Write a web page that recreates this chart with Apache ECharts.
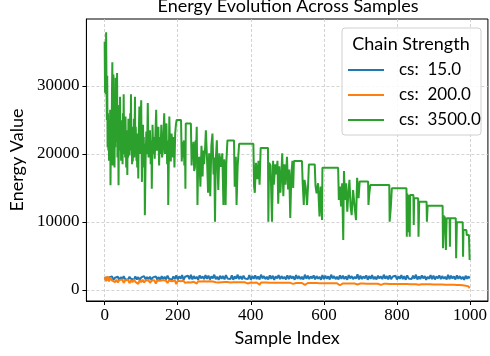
<!DOCTYPE html>
<html><head><meta charset="utf-8">
<script src="https://cdn.jsdelivr.net/npm/echarts@6/dist/echarts.min.js"></script>
<style>html,body{margin:0;padding:0;background:#fff}#c{width:490px;height:356px}</style>
</head><body><div id="c"></div>
<script>
const seriesNames = ['cs:  15.0', 'cs:  200.0', 'cs:  3500.0'];
const xTicks = [0, 200, 400, 600, 800, 1000];
const yTicks = [0, 10000, 20000, 30000];
const sampleStep = 4;
const blueVals = [
1550,1900,1450,1850,1600,2000,1500,1800,1650,1950,
1450,1900,1550,2050,1600,1850,1500,1950,1650,1800,
1500,2000,1550,1900,1450,1850,1650,2050,1550,1900,
1600,1950,1500,1850,1650,2000,1550,1900,1450,2050,
1600,1950,1550,2100,1650,1900,1500,2000,1600,2150,
1550,2000,1650,2200,1500,1950,1700,2100,1600,2250,
1550,2050,1650,1950,1500,2150,1700,2000,1600,2200,
1650,2100,1550,2000,1700,2250,1600,1950,1500,2100,
1650,2050,1550,2200,1700,1950,1600,2150,1500,2000,
1650,2250,1600,2050,1550,2100,1700,1950,1600,2200,
1500,2050,1650,2150,1600,2000,1550,2250,1700,2050,
1600,1950,1550,2150,1650,2100,1500,2000,1700,2200,
1600,2050,1650,1950,1550,2150,1600,2100,1700,2000,
1500,2200,1650,2050,1600,1950,1550,2250,1650,2100,
1600,2000,1700,2150,1550,2050,1650,1950,1500,2200,
1600,2100,1650,2000,1550,2250,1700,2050,1600,1950,
1550,2150,1650,2100,1600,2000,1500,2200,1700,2050,
1600,1950,1650,2300,1550,2100,1600,2000,1700,2150,
1500,2050,1650,2200,1600,1950,1550,2100,1700,2000,
1600,2250,1650,2050,1550,2150,1600,1950,1700,2100,
1550,2000,1650,2200,1600,2050,1500,2150,1700,1950,
1600,2100,1650,2250,1550,2000,1600,2150,1700,2050,
1500,1950,1650,2200,1600,2100,1550,2000,1700,2150,
1600,2050,1650,1950,1550,2250,1600,2100,1700,2000,
1550,2150,1650,2050,1600,1950,1500,2100,1650,2000,
1700];
const orangeVals = [
1900,1300,2000,1250,1850,1400,
1550,1150,1500,1100,1450,1250,1550,1050,1400,1200,
1500,1000,1450,1150,1550,1200,1400,900,1450,1150,
1500,1100,1400,1250,1450,1050,1350,1200,1450,950,
1400,1150,1350,1100,1450,1200,1350,1050,1400,1150,
1300,1100,1400,850,1350,1150,1300,1200,1350,1050,
1300,1150,1350,1100,1250,1200,1300,950,1300,1150,
1250,1200,1300,1100,1250,1150,1300,1050,1250,
1200,1150,1200,1100,1180,1150,900,1170,1120,1160,
1150,1100,1150,1130,850,1140,1100,1140,1120,1130,
1100,1130,1110,950,1120,1100,1110,1080,1110,1100,
1100,800,1100,1090,1095,1080,1090,1085,1080,950,
1080,1075,1070,1075,1070,850,1065,1060,1060,1055,
1055,
1050,1048,1045,900,1043,1040,1038,1036,1034,1032,
1030,750,1028,1025,1022,1020,1018,1016,1014,1012,
1010,1008,850,1005,1002,1000,998,995,993,990,
988,985,983,980,978,700,975,972,970,968,
965,962,960,958,955,952,950,820,948,945,
942,940,938,935,932,930,928,925,922,920,
917,915,912,750,910,907,905,902,900,897,
895,892,890,887,885,882,880,877,875,872,
870,867,865,862,860,857,855,852,850,760,
847,845,842,840,837,835,832,830,827,825,
822,820,815,810,805,800,795,790,785,780,
775,770,765,760,750,740,730,720,705,690,
670,640,600,520,
250];
const greenPts = [
[0,36500],[1,29000],[2,36300],[3,28800],[4,37900],[5,30500],[6,25000],[7,31500],[8,21000],[9,26000],
[10,20500],[11,24800],[12,19000],[13,24700],[14,21000],[15,26500],[16,15400],[17,22000],[18,24500],[19,20000],
[20,29000],[21,33500],[22,18300],[23,27000],[24,31700],[25,22500],[26,24400],[27,18000],[28,26000],[29,21000],
[30,31200],[31,24000],[32,21800],[33,28500],[34,31900],[35,19500],[36,24000],[37,22000],[38,15400],[39,23000],
[40,27200],[41,20500],[42,28400],[43,22000],[44,25000],[45,19000],[46,23500],[47,21000],[48,24800],[49,18500],
[50,26000],[51,20000],[52,28800],[53,23000],[54,20400],[55,25000],[56,19500],[57,25500],[58,21500],[59,18000],
[60,23500],[61,20000],[62,16900],[63,22500],[64,19500],[65,25200],[66,21000],[67,23500],[68,19800],[69,22000],
[70,26000],[71,21500],[72,28800],[73,20500],[74,23000],[75,18500],[76,22500],[77,18900],[78,24000],[79,21000],
[80,25200],[81,19500],[82,23500],[83,28400],[84,20000],[85,24000],[86,21800],[87,19000],[88,23000],[89,18000],
[90,21500],[91,20000],[92,16400],[93,22000],[94,24500],[95,27000],[96,20000],[97,23000],[98,21000],[99,25000],
[100,27900],[101,21000],[102,15900],[103,22000],[104,19500],[105,24300],[106,20500],[107,22500],[108,18000],[109,21500],
[110,11000],[112,19000],[114,23300],[116,20000],[118,27500],[120,19500],[122,20400],[124,23500],[126,18500],[128,22000],
[129,14900],[131,24300],[133,20000],[135,22500],[137,19300],[139,23000],[141,26500],[143,20500],[145,21800],[147,24000],
[149,18300],[151,22500],[153,20000],[155,24300],[157,19500],[159,20400],[161,23000],[163,26000],[165,20000],[167,21800],
[169,24500],[171,18500],[173,22000],[174,12500],[176,21000],[177,25500],[179,20500],[181,18900],[183,23000],[185,21800],
[187,19500],[189,22500],[191,18000],[193,23000],[195,24300],[197,25000],[209,25000],[211,18900],[213,21800],[215,19500],
[217,22000],[218,18300],[220,21000],[221,14900],[222,24500],[236,24500],[238,18300],[240,21500],[242,19500],[243,21800],
[245,17500],[247,18000],[249,22000],[250,20000],[252,24000],[254,12500],[256,19000],[259,19600],[262,15200],[265,21200],
[268,16700],[270,20500],[272,18500],[275,21000],[277,23500],[280,19500],[283,14300],[286,20100],[289,13800],[292,21200],
[295,23000],[298,17000],[300,19500],[302,10050],[304,19000],[307,22000],[309,18000],[311,14700],[314,20100],[318,18100],
[322,20100],[325,12500],[327,19200],[329,17800],[331,12500],[333,18700],[336,22000],[354,22000],[356,15200],[359,19600],
[361,12500],[364,18200],[368,21500],[407,21500],[409,15200],[411,14300],[414,18700],[418,16300],[421,19000],[424,15500],
[427,20900],[447,20900],[448,10050],[450,18700],[454,18300],[458,10050],[461,19000],[463,15500],[467,18500],[470,17000],
[473,19000],[475,12700],[478,18200],[481,14300],[484,17500],[486,20100],[489,13800],[492,18500],[495,15500],[499,19600],
[502,14800],[505,17700],[508,10600],[511,17000],[514,19000],[516,15000],[518,18960],[540,18960],[542,15700],[545,12500],
[547,16200],[550,15200],[554,12500],[557,15700],[559,18470],[575,18470],[577,15400],[580,14200],[584,15700],[588,10800],
[591,15200],[595,10290],[596,17980],[639,17980],[641,13230],[644,15200],[647,12300],[650,15700],[653,7350],[655,17490],
[658,13230],[661,15700],[664,11500],[667,14200],[670,16200],[673,12300],[676,11000],[680,14700],[684,12300],[688,10290],
[691,16500],[695,13500],[698,15970],[721,15970],[722,12500],[724,14000],[727,15430],[779,15430],[780,10045],[783,12000],
[786,14945],[826,14945],[827,7840],[828,14200],[830,8500],[831,14000],[833,12500],[835,7840],[836,13965],[845,13965],
[846,9555],[847,13475],[858,13475],[859,7840],[861,12985],[881,12985],[882,10045],[884,12400],[925,12400],[926,6125],
[928,11000],[930,9500],[931,10800],[934,5880],[936,10535],[944,10535],[945,6370],[946,10535],[961,10535],[962,4655],
[964,9950],[980,9950],[981,4900],[982,8820],[990,8820],[991,8085],[997,8085],[999,4410]];

const toPts = vals => vals.map((v, i) => [Math.min(i * sampleStep, 999), v]);
const SANS = 'Lato';
const SERIF = 'Liberation Serif';
const chart = echarts.init(document.getElementById('c'), null, {renderer: 'canvas'});
const lineSeries = (name, data, color) => ({
  name, type: 'line', data, showSymbol: false, symbol: 'none', animation: false,
  lineStyle: {color, width: 2}, itemStyle: {color}, silent: true
});
const gridLine = {show: true, lineStyle: {color: '#c8c8c8', width: 0.8, type: [3, 2]}};
chart.setOption({
  animation: false,
  backgroundColor: '#fff',
  title: {text: 'Energy Evolution Across Samples', left: 288, top: -3, textAlign: 'center', padding: 0,
    textStyle: {fontFamily: SANS, fontSize: 18, fontWeight: 'normal', color: '#000'}},
  grid: {left: 86, right: 1, top: 19, bottom: 55, show: true, borderColor: '#000', borderWidth: 1},
  xAxis: {type: 'value', min: -50, max: 1049, splitNumber: 5,
    name: 'Sample Index', nameLocation: 'middle', nameGap: 28,
    nameTextStyle: {fontFamily: SANS, fontSize: 18, color: '#000'},
    axisLine: {show: true, onZero: false, lineStyle: {color: '#000', width: 1}},
    axisTick: {show: true, length: 4, lineStyle: {color: '#000'}, customValues: xTicks},
    axisLabel: {fontFamily: SERIF, fontSize: 17, color: '#000', margin: 6,
      customValues: xTicks, formatter: v => String(v)},
    splitLine: gridLine},
  yAxis: {type: 'value', min: -1618, max: 39853, splitNumber: 4,
    name: 'Energy Value', nameLocation: 'middle', nameGap: 58,
    nameTextStyle: {fontFamily: SANS, fontSize: 18, color: '#000'},
    axisLine: {show: true, onZero: false, lineStyle: {color: '#000', width: 1}},
    axisTick: {show: true, length: 4, lineStyle: {color: '#000'}, customValues: yTicks},
    axisLabel: {fontFamily: SERIF, fontSize: 17, color: '#000', margin: 7,
      customValues: yTicks, formatter: v => String(v)},
    splitLine: gridLine},
  legend: {data: seriesNames.map(n => ({name: n, icon: 'rect'})), orient: 'vertical', left: 348, top: 60, padding: 0, itemGap: 5,
    itemWidth: 36, itemHeight: 2,
    textStyle: {fontFamily: SANS, fontSize: 17, color: '#000', lineHeight: 20, padding: [0, 0, 0, 10]}},
  graphic: [
    {type: 'rect', z: 3, shape: {x: 342, y: 28, width: 139, height: 107, r: 3},
      style: {fill: 'rgba(255,255,255,0.85)', stroke: '#d0d0d0', lineWidth: 1}},
    {type: 'text', z: 4, x: 411, y: 44,
      style: {text: 'Chain Strength', fontFamily: SANS, fontSize: 18, fill: '#000', align: 'center', verticalAlign: 'middle'}}
  ],
  series: [
    lineSeries(seriesNames[0], toPts(blueVals), '#1f77b4'),
    lineSeries(seriesNames[1], toPts(orangeVals), '#ff7f0e'),
    lineSeries(seriesNames[2], greenPts, '#2ca02c')
  ]
});
</script></body></html>
